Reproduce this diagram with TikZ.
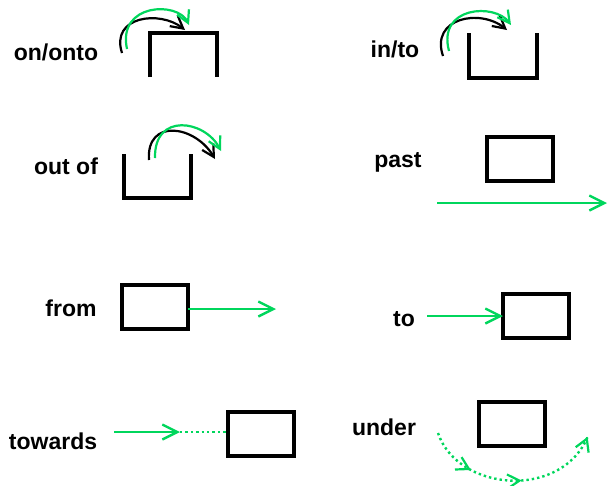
\documentclass[tikz,border=0pt]{standalone}
\usepackage{fontspec}
\setmainfont{Liberation Sans}
\usetikzlibrary{arrows.meta,decorations.markings}
\definecolor{mvgreen}{RGB}{0,214,92}
\tikzset{
  lbl/.style={font=\bfseries\fontsize{23}{27}\selectfont, inner sep=0pt},
  obj/.style={draw=black, line width=3.2pt, minimum width=66pt, minimum height=44pt, inner sep=0pt, outer sep=0pt},
  cup/.style={draw=black, line width=3.2pt},
  garr/.style={draw=mvgreen, line width=2.4pt, -{Straight Barb[length=15pt,width=15pt,line width=2.4pt]}},
  gdot/.style={draw=mvgreen, line width=2.4pt, dash pattern=on 2.4pt off 3pt},
  barr/.style={draw=black, line width=2.2pt, -{Straight Barb[length=12pt,width=13pt,line width=2.2pt]}},
  harr/.style={draw=mvgreen, line width=2.2pt, -{Straight Barb[length=12pt,width=13pt,line width=2.2pt]}},
  utip/.style={solid, mvgreen, line width=2.2pt},
}
\begin{document}
\begin{tikzpicture}[x=1pt,y=-1pt]
\useasboundingbox (0,0) rectangle (608,485);

% labels
\node[lbl] (lon)   at (56,52)   {on/onto};
\node[lbl] (lin)   at (395,49)  {in/to};
\node[lbl] (lout)  at (66,166)  {out of};
\node[lbl] (lpast) at (398,162) {past};
\node[lbl] (lfrom) at (71,308)  {from};
\node[lbl] (lto)   at (404,319) {to};
\node[lbl] (ltow)  at (53,441)  {towards};
\node[lbl] (lund)  at (384,427) {under};

% on/onto: upturned container
\coordinate (onA) at (150,77);
\coordinate (onB) at (150,33);
\coordinate (onC) at (217,33);
\coordinate (onD) at (217,77);
\draw[cup] (onA) -- (onB) -- (onC) -- (onD);
\coordinate (onS1) at (122,53);
\coordinate (onE1) at (185,30);
\coordinate (onS2) at (127,49);
\coordinate (onE2) at (189,25);
\draw[barr] (onS1) .. controls (110,16) and (160,10) .. (onE1);
\draw[harr] (onS2) .. controls (117,3) and (178,1) .. (onE2);

% in/to: open container
\coordinate (inA) at (469,33);
\coordinate (inB) at (469,78);
\coordinate (inC) at (537,78);
\coordinate (inD) at (537,33);
\draw[cup] (inA) -- (inB) -- (inC) -- (inD);
\coordinate (inS1) at (443,56);
\coordinate (inE1) at (507,30);
\coordinate (inS2) at (449,51);
\coordinate (inE2) at (511,25);
\draw[barr] (inS1) .. controls (430,18) and (480,8) .. (inE1);
\draw[harr] (inS2) .. controls (437,6) and (495,3) .. (inE2);

% out of: open container
\coordinate (ouA) at (124,154);
\coordinate (ouB) at (124,198);
\coordinate (ouC) at (191,198);
\coordinate (ouD) at (191,154);
\draw[cup] (ouA) -- (ouB) -- (ouC) -- (ouD);
\coordinate (ouS1) at (149,160);
\coordinate (ouE1) at (215,159);
\coordinate (ouS2) at (155,158);
\coordinate (ouE2) at (221,151);
\draw[barr] (ouS1) .. controls (146,118) and (195,125) .. (ouE1);
\draw[harr] (ouS2) .. controls (154,112) and (205,120) .. (ouE2);

% past
\node[obj] (bpast) at (520,159) {};
\coordinate (pS) at (437,203);
\coordinate (pE) at (607,203);
\draw[garr] (pS) -- (pE);

% from
\node[obj] (bfrom) at (155,307) {};
\coordinate (fE) at (276,309);
\draw[garr] (bfrom.east |- fE) -- (fE);

% to
\node[obj] (bto) at (536,316) {};
\coordinate (tS) at (427,316);
\draw[garr] (tS) -- (bto.west);

% towards
\node[obj] (btow) at (261,434) {};
\coordinate (twS) at (114,432);
\coordinate (twM) at (180,432);
\draw[garr] (twS) -- (twM);
\draw[gdot] (twM) -- (btow.west |- twM);

% under
\node[obj] (bund) at (512,424) {};
\coordinate (uS) at (438,433);
\coordinate (uE) at (588,436);
\draw[gdot, postaction={decorate}, decoration={markings,
    mark=at position 0.27 with {\arrow[utip]{Straight Barb[length=12pt,width=14pt]}},
    mark=at position 0.55 with {\arrow[utip]{Straight Barb[length=12pt,width=14pt]}},
    mark=at position 0.995 with {\arrow[utip]{Straight Barb[length=12pt,width=14pt]}}}]
  (uS) .. controls (458,492) and (562,500) .. (uE);
\end{tikzpicture}
\end{document}
